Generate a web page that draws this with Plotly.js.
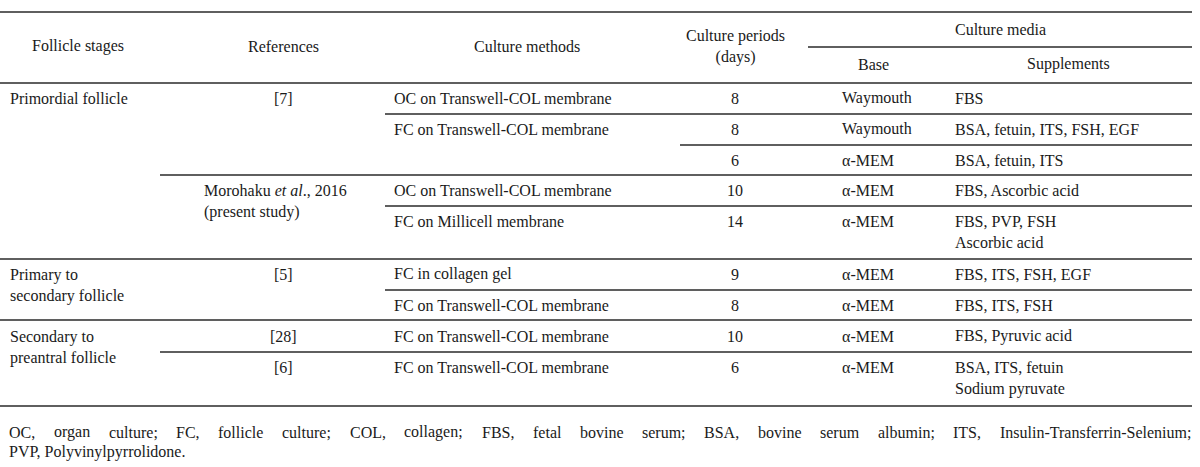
<!DOCTYPE html>
<html>
<head>
<meta charset="utf-8">
<script src="https://cdn.plot.ly/plotly-3.0.1.min.js"></script>
<style>
  html, body { margin: 0; padding: 0; background: #ffffff; }
  #chart { width: 1200px; height: 467px; }
</style>
</head>
<body>
<div id="chart"></div>
<script>
// ---------------- data ----------------
const headerMain = ["Follicle stages", "References", "Culture methods", "Culture periods<br>(days)", "Culture media"];
const headerSub = ["Base", "Supplements"];

const stages = ["Primordial follicle", "Primary to<br>secondary follicle", "Secondary to<br>preantral follicle"];
const stageRows = [0, 5, 7];

const references = ["[7]", "Morohaku <i>et al</i>., 2016<br>(present study)", "[5]", "[28]", "[6]"];
const referenceRows = [0, 3, 5, 7, 8];

const methods = ["OC on Transwell-COL membrane", "FC on Transwell-COL membrane", "",
  "OC on Transwell-COL membrane", "FC on Millicell membrane", "FC in collagen gel",
  "FC on Transwell-COL membrane", "FC on Transwell-COL membrane", "FC on Transwell-COL membrane"];
const periods = [8, 8, 6, 10, 14, 9, 8, 10, 6];
const bases = ["Waymouth", "Waymouth", "α-MEM", "α-MEM", "α-MEM", "α-MEM", "α-MEM", "α-MEM", "α-MEM"];
const supplements = ["FBS", "BSA, fetuin, ITS, FSH, EGF", "BSA, fetuin, ITS", "FBS, Ascorbic acid",
  "FBS, PVP, FSH<br>Ascorbic acid", "FBS, ITS, FSH, EGF", "FBS, ITS, FSH", "FBS, Pyruvic acid",
  "BSA, ITS, fetuin<br>Sodium pyruvate"];

const footnoteLines = [
  "OC, organ culture; FC, follicle culture; COL, collagen; FBS, fetal bovine serum; BSA, bovine serum albumin; ITS, Insulin-Transferrin-Selenium;",
  "PVP, Polyvinylpyrrolidone."
];

// ---------------- layout geometry ----------------
const W = 1200, H = 467;
const FAMILY = "Liberation Serif";
const FONT = {family: FAMILY, size: 16, color: "#1a1a1a"};
const LINE_GAP = 22;
const rowY = [98, 129, 160, 190, 221, 274, 305, 336, 367];
const col = {
  stageLeft: 8, stageHead: 78,
  refCenter: 283, refLeft: 202,
  methodLeft: 392, methodHead: 527,
  periodCenter: 735,
  mediaHead: 1000,
  baseLeft: 840, baseHead: 873,
  suppLeft: 953, suppHead: 1068
};
const refAnchor = ["center", "left", "center", "center", "center"];
const TABLE_RIGHT = 1192;
// horizontal rules: [y, x0, x1, width]
const rules = [
  [12, 0, TABLE_RIGHT, 1.6],
  [47, 808, TABLE_RIGHT, 1.4],
  [83, 0, TABLE_RIGHT, 1.6],
  [114, 385, TABLE_RIGHT, 1.4],
  [145, 680, TABLE_RIGHT, 1.4],
  [175, 160, TABLE_RIGHT, 1.4],
  [206, 385, TABLE_RIGHT, 1.4],
  [259, 0, TABLE_RIGHT, 1.4],
  [290, 385, TABLE_RIGHT, 1.4],
  [320, 0, TABLE_RIGHT, 1.4],
  [352, 160, TABLE_RIGHT, 1.4],
  [406, 0, TABLE_RIGHT, 1.6]
];
const footY = [432, 452];
const footLeft = 8, footRight = 1190;

// ---------------- build ----------------
const annotations = [];
function lines(t) { return t.split("<br>").length; }
function cell(text, x, yFirst, xanchor, align) {
  if (text === "" || text === null) return;
  const n = lines(String(text));
  annotations.push({
    text: String(text), x: x, y: yFirst + (n - 1) * LINE_GAP / 2,
    xref: "x", yref: "y", xanchor: xanchor, yanchor: "middle", align: align || xanchor,
    showarrow: false, font: FONT
  });
}

// header
cell(headerMain[0], col.stageHead, 46, "center");
cell(headerMain[1], col.refCenter, 46, "center");
cell(headerMain[2], col.methodHead, 46, "center");
cell(headerMain[3], col.periodCenter, 35, "center");
cell(headerMain[4], col.mediaHead, 29, "center");
cell(headerSub[0], col.baseHead, 64, "center");
cell(headerSub[1], col.suppHead, 64, "center");

// body
stages.forEach((s, i) => cell(s, col.stageLeft, rowY[stageRows[i]], "left"));
references.forEach((r, i) => cell(r, refAnchor[i] === "left" ? col.refLeft : col.refCenter,
  rowY[referenceRows[i]], refAnchor[i], "left"));
methods.forEach((m, i) => cell(m, col.methodLeft, rowY[i], "left"));
periods.forEach((p, i) => cell(p, col.periodCenter, rowY[i], "center"));
bases.forEach((b, i) => cell(b, col.baseLeft, rowY[i], "left"));
supplements.forEach((s, i) => cell(s, col.suppLeft, rowY[i], "left"));

// footnote: first line justified across the table width (word by word), last line left
const ctx = document.createElement("canvas").getContext("2d");
ctx.font = FONT.size + "px '" + FAMILY + "'";
footnoteLines.forEach((t, i) => {
  if (i < footnoteLines.length - 1) {
    const words = t.split(" ");
    const widths = words.map(w => ctx.measureText(w).width);
    const total = widths.reduce((a, b) => a + b, 0);
    const gap = (footRight - footLeft - total) / (words.length - 1);
    let x = footLeft;
    words.forEach((w, k) => {
      annotations.push({
        text: w, x: x, y: footY[i], xref: "x", yref: "y", xanchor: "left", yanchor: "middle",
        align: "left", showarrow: false, font: FONT, borderpad: 0
      });
      x += widths[k] + gap;
    });
  } else {
    annotations.push({
      text: t, x: footLeft, y: footY[i], xref: "x", yref: "y", xanchor: "left", yanchor: "middle",
      align: "left", showarrow: false, font: FONT, borderpad: 0
    });
  }
});

const shapes = rules.map(r => ({
  type: "line", xref: "x", yref: "y", x0: r[1], x1: r[2], y0: r[0], y1: r[0],
  line: {color: "#2a2a2a", width: r[3]}
}));

const layout = {
  width: W, height: H,
  margin: {l: 0, r: 0, t: 0, b: 0, pad: 0},
  paper_bgcolor: "#ffffff", plot_bgcolor: "#ffffff",
  font: FONT,
  xaxis: {range: [0, W], visible: false, fixedrange: true},
  yaxis: {range: [H, 0], visible: false, fixedrange: true},
  showlegend: false,
  annotations: annotations,
  shapes: shapes
};

Plotly.newPlot("chart", [{x: [], y: [], type: "scatter", mode: "markers", hoverinfo: "skip"}], layout,
  {staticPlot: true, displayModeBar: false});
</script>
</body>
</html>
